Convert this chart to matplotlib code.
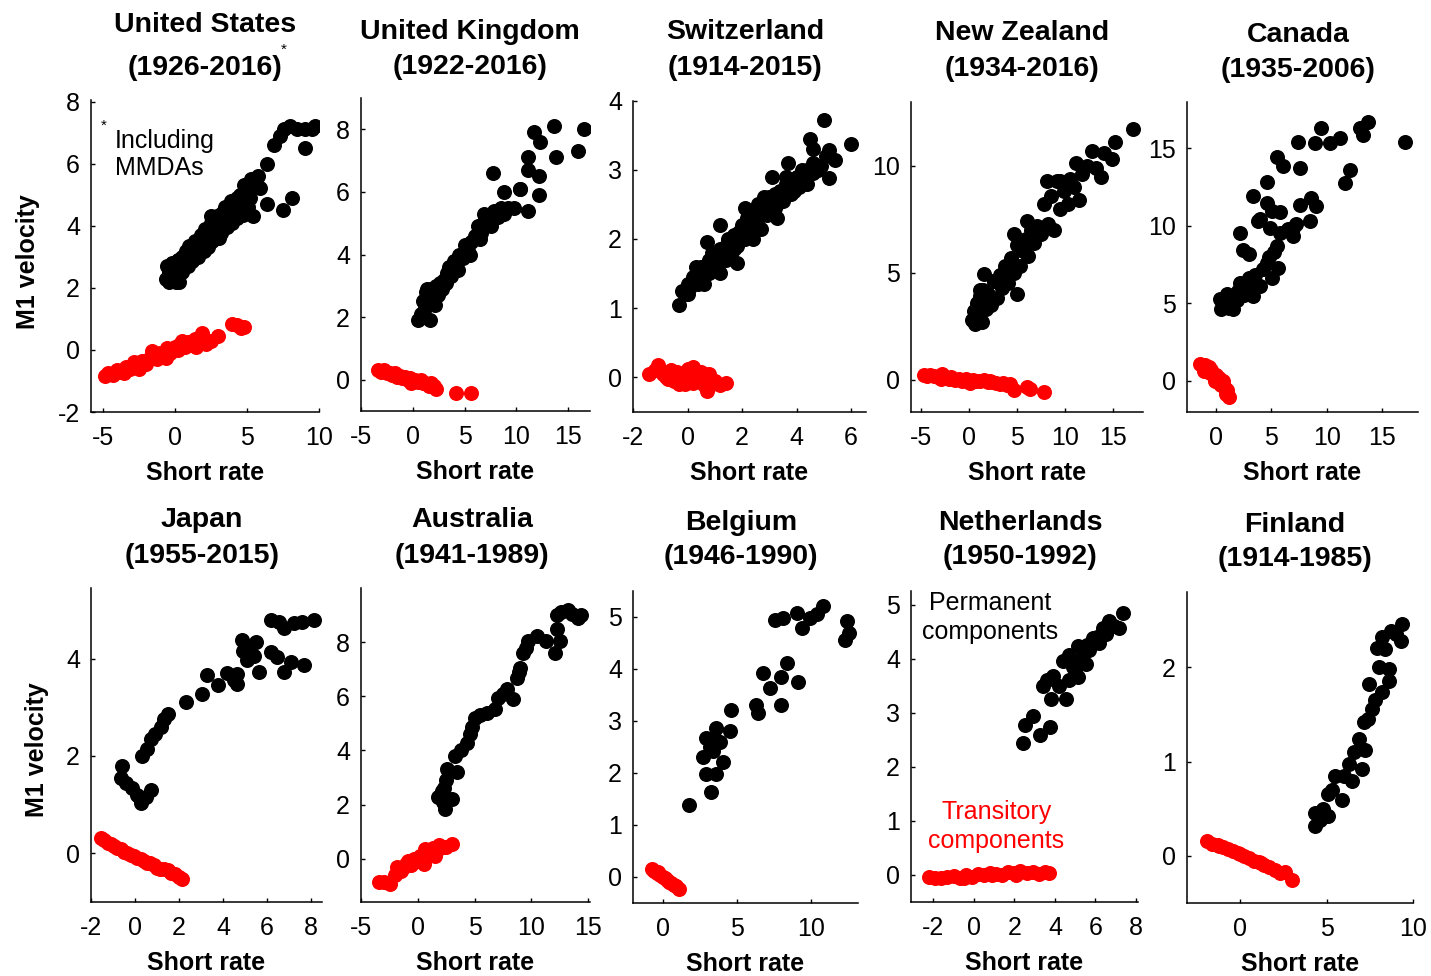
import matplotlib
matplotlib.use("Agg")
import matplotlib.pyplot as plt

plt.rcParams['font.family'] = ['Liberation Sans', 'DejaVu Sans']
plt.rcParams['axes.unicode_minus'] = False

W, H = 1431, 976

# ---------------- data ----------------
countries = ["United States", "United Kingdom", "Switzerland", "New Zealand", "Canada",
             "Japan", "Australia", "Belgium", "Netherlands", "Finland"]
periods = ["(1926-2016)", "(1922-2016)", "(1914-2015)", "(1934-2016)", "(1935-2006)",
           "(1955-2015)", "(1941-1989)", "(1946-1990)", "(1950-1992)", "(1914-1985)"]

us_perm_x = [-0.6,-0.5,-0.4,-0.2,-0.1,0.0,0.2,0.3,0.4,0.5,0.7,0.8,1.0,1.1,1.3,1.4,1.5,1.7,1.8,2.0,2.1,2.2,2.4,2.5,2.6,2.8,2.9,3.0,3.2,3.3,3.4,3.5,3.7,3.8,3.9,4.0,4.2,4.3,4.4,4.5,4.7,4.8,4.9,5.0,5.2,5.3,5.4,5.5,0.5,1.2,2.3,3.1,4.1,2.7,3.6,4.6,-0.3,0.1,1.6,2.0,
             5.8,6.4,6.9,7.3,7.6,8.0,8.5,9.0,9.5,9.7,9.0,8.1,7.5,6.4,5.9,
             -0.4,0.0,0.3,0.6,0.9,1.2,1.5,1.9,2.2,2.6,2.9,3.3,3.6,4.0,4.3,4.7,5.1,0.2,1.0,1.8,2.5,3.2,4.0,4.8]
us_perm_y = [2.3,2.7,2.5,2.8,2.4,2.6,2.9,2.2,2.7,3.0,2.8,3.2,3.0,3.3,3.1,3.5,3.3,3.4,3.7,3.5,3.9,3.6,3.8,4.1,3.7,4.0,4.3,3.8,4.2,4.4,4.0,4.6,4.3,4.5,4.8,4.2,4.6,4.9,4.4,5.0,4.7,5.1,4.5,5.3,4.9,5.5,4.3,5.2,2.5,2.9,3.3,3.6,4.4,3.9,4.1,4.6,2.5,2.2,3.0,3.2,
             5.6,6.0,6.6,6.9,7.1,7.2,7.1,7.1,7.1,7.2,6.5,4.9,4.5,4.7,5.2,
             2.2,2.35,2.45,2.6,2.7,2.85,3.05,3.2,3.3,3.5,3.6,3.85,3.95,4.1,4.25,4.35,4.6,2.75,3.35,3.65,4.3,3.75,4.55,5.3]
us_tran_x = [-4.8,-4.6,-4.3,-4.0,-3.7,-3.4,-3.1,-2.8,-2.6,-2.3,-2.0,-1.8,-1.5,-1.2,-1.0,-0.8,-0.5,-0.3,0.0,0.2,0.4,0.7,0.9,1.2,1.4,1.7,1.9,2.2,2.5,3.0,4.0,4.3,4.6,4.8,-2.5,-1.6,-0.6,0.5,1.5,-3.5]
us_tran_y = [-0.85,-0.75,-0.8,-0.65,-0.7,-0.55,-0.6,-0.4,-0.5,-0.35,-0.45,-0.3,-0.2,-0.3,-0.1,-0.2,0.05,-0.1,0.1,0.0,0.2,0.1,0.25,0.15,0.35,0.3,0.55,0.2,0.3,0.45,0.85,0.8,0.7,0.75,-0.6,-0.05,-0.25,0.3,0.1,-0.75]

uk_perm_x = [0.5,0.8,1.0,1.2,1.3,1.5,1.7,1.8,2.0,2.2,2.4,2.6,2.8,3.0,3.3,3.5,3.7,4.0,4.2,4.5,4.8,5.0,5.3,5.6,6.0,6.3,6.6,6.9,7.2,7.5,7.8,8.2,8.5,8.8,9.2,1.4,2.1,3.2,4.4,5.5,6.5,7.0,
             9.8,10.3,11.1,7.7,8.8,10.3,11.1,11.1,12.2,12.2,11.7,12.3,13.6,13.8,15.9,16.5]
uk_perm_y = [1.9,2.1,2.5,2.3,2.8,2.6,1.9,2.9,2.6,3.0,2.7,3.1,2.9,3.2,3.4,3.6,3.3,3.8,3.6,4.0,3.9,4.3,4.1,4.4,4.6,4.9,4.7,5.3,5.0,4.9,5.4,5.2,5.5,5.3,5.5,2.9,2.4,3.1,3.5,4.0,4.5,5.2,
             5.5,6.1,5.4,6.6,6.0,6.1,7.1,6.7,6.5,5.9,7.9,7.6,8.1,7.1,7.3,8.0]
uk_tran_x = [-3.4,-3.1,-2.8,-2.5,-2.2,-2.0,-1.7,-1.5,-1.2,-1.0,-0.8,-0.5,-0.3,0.0,0.2,0.5,0.7,1.0,1.2,1.5,1.8,2.0,2.2,-0.2,0.8,1.6,4.2,5.6]
uk_tran_y = [0.3,0.25,0.3,0.2,0.22,0.15,0.2,0.1,0.12,0.05,0.08,0.0,0.05,-0.05,0.0,-0.08,-0.05,-0.1,-0.12,-0.15,-0.12,-0.2,-0.3,-0.1,-0.02,-0.2,-0.43,-0.43]

ch_perm_x = [-0.3,-0.2,-0.1,0.0,0.1,0.2,0.3,0.4,0.5,0.6,0.7,0.8,0.9,1.0,1.1,1.2,1.3,1.4,1.5,1.6,1.7,1.8,1.9,2.0,2.1,2.2,2.3,2.4,2.5,2.6,2.7,2.8,2.9,3.0,3.1,3.2,3.3,3.4,3.5,3.6,3.8,4.0,4.2,4.4,4.6,4.8,
             0.3,0.6,0.9,1.2,1.5,1.8,2.1,2.4,2.7,3.0,3.3,3.6,3.9,4.2,0.7,1.2,3.1,3.7,4.5,5.0,6.0,5.2,5.4,5.2,4.4,4.6,
             0.0,0.4,0.8,1.1,1.4,1.7,2.0,2.3,2.6,2.9,3.2,3.5,3.8,4.1,4.3,4.6,4.9,5.1]
ch_perm_y = [1.05,1.25,1.2,1.35,1.3,1.45,1.4,1.5,1.6,1.45,1.55,1.7,1.6,1.75,1.65,1.85,1.75,1.9,1.95,1.8,2.05,1.9,2.1,2.2,2.0,2.3,2.15,2.4,2.25,2.5,2.35,2.6,2.45,2.55,2.4,2.65,2.5,2.7,2.6,2.8,2.75,2.9,2.85,3.0,3.1,3.0,
             1.6,1.35,1.8,1.5,2.0,1.65,2.45,2.0,2.15,2.6,2.3,2.9,2.7,3.0,1.95,2.2,2.9,3.1,3.45,3.72,3.38,2.88,3.14,3.28,2.8,3.3,
             1.2,1.35,1.5,1.6,1.7,1.85,2.0,2.1,2.3,2.35,2.45,2.55,2.65,2.75,2.9,2.95,3.05,3.2]
ch_tran_x = [-1.4,-1.2,-1.1,-0.9,-0.8,-0.6,-0.5,-0.4,-0.2,-0.1,0.0,0.1,0.2,0.3,0.4,0.5,0.6,0.7,0.8,0.9,1.0,1.2,1.4,-0.3,0.2,0.6,-0.7,0.0]
ch_tran_y = [0.04,0.1,0.18,0.05,0.0,0.1,-0.05,0.08,0.0,-0.1,0.12,0.05,0.15,-0.05,0.0,0.08,-0.12,-0.2,0.05,-0.1,-0.05,-0.12,-0.08,-0.1,-0.08,0.05,-0.02,0.0]

nz_perm_x = [0.3,0.5,0.7,0.9,1.0,1.2,1.4,1.5,1.8,2.0,2.3,2.6,2.9,3.2,3.5,3.8,4.1,4.4,4.7,5.0,5.3,5.6,5.9,6.2,6.5,6.8,7.1,7.5,7.8,8.2,8.5,8.9,9.2,9.5,9.9,10.3,10.5,10.9,11.4,11.8,12.3,12.8,13.2,13.7,14.1,14.9,15.2,17.1,
             1.6,2.6,4.7,6.1,8.1,9.5,11.1,1.2,5.0]
nz_perm_y = [2.8,3.2,2.6,3.6,3.0,3.9,2.7,4.2,3.3,4.0,3.5,4.6,3.8,4.9,4.3,5.3,4.5,5.7,5.0,6.3,5.3,6.0,6.6,5.8,7.0,6.4,7.2,6.8,8.2,7.3,8.6,7.0,9.3,8.0,8.8,8.2,9.4,9.0,8.4,9.6,10.0,10.7,9.9,9.5,10.6,10.3,11.1,11.7,
             4.95,4.6,6.8,7.4,9.3,9.3,10.15,4.2,4.0]
nz_tran_x = [-4.7,-4.3,-4.0,-3.6,-3.2,-2.8,-2.5,-2.1,-1.8,-1.4,-1.0,-0.7,-0.3,0.0,0.4,0.8,1.2,1.6,2.0,2.4,2.8,3.2,3.6,4.0,4.3,4.7,6.0,6.4,7.8,-2.9,0.1,2.2]
nz_tran_y = [0.22,0.15,0.2,0.18,0.1,0.25,0.12,0.05,0.1,0.0,0.05,-0.05,0.02,-0.1,0.0,-0.05,-0.08,0.0,-0.12,-0.1,-0.15,-0.2,-0.15,-0.25,-0.22,-0.5,-0.35,-0.45,-0.58,0.05,-0.15,-0.05]

ca_perm_x = [0.36,0.5,0.8,1.2,1.56,1.9,2.16,2.5,2.8,3.36,3.0,3.5,3.96,4.2,4.6,5.01,5.61,4.8,5.46,5.2,2.16,2.46,3.36,3.81,4.56,4.56,5.01,5.46,6.06,7.41,7.56,6.96,7.56,8.61,8.46,9.06,9.51,8.91,10.26,11.16,11.61,12.06,12.96,13.26,13.71,17.01,5.76,4.86,6.96,5.8,6.5,7.2,3.0,4.0,1.0,2.0]
ca_perm_y = [5.25,4.6,5.0,4.7,4.6,5.2,6.32,5.5,6.0,5.46,6.6,6.8,6.1,7.2,7.6,6.64,7.29,8.0,8.68,8.3,9.54,8.46,11.89,10.28,12.85,11.46,10.93,14.46,13.82,15.42,13.71,9.32,11.36,11.79,10.28,11.25,16.28,15.32,15.32,15.64,12.75,13.61,16.28,15.85,16.71,15.42,9.54,9.86,9.86,10.9,9.8,10.1,8.2,10.4,5.6,5.8]
ca_tran_x = [-1.4,-1.2,-1.0,-0.9,-0.7,-0.5,-0.4,-0.2,0.0,0.1,0.3,0.5,0.6,0.8,1.0,1.2,-1.1,-0.6,-0.1,0.4,0.9]
ca_tran_y = [1.1,0.9,1.0,0.7,0.8,0.5,0.7,0.3,0.4,0.0,0.2,-0.3,0.0,-0.5,-0.6,-1.05,0.6,0.9,0.0,-0.2,-0.85]

jp_perm_x = [-0.57,-0.65,-0.4,-0.12,0.1,0.26,0.5,0.71,0.33,0.55,0.71,0.9,1.17,1.3,1.48,2.3,3.06,3.29,3.75,4.2,4.5,4.65,4.65,4.88,5.1,5.48,5.63,5.4,6.17,6.47,6.77,7.07,7.68,6.55,6.77,7.23,7.6,8.14,6.17,4.9,5.2]
jp_perm_y = [1.8,1.55,1.45,1.35,1.2,1.04,1.15,1.31,2.0,2.15,2.35,2.45,2.59,2.75,2.86,3.11,3.28,3.66,3.45,3.7,3.55,3.69,3.48,4.38,3.97,4.35,3.73,4.05,4.14,4.04,3.73,3.93,3.87,4.76,4.62,4.73,4.75,4.8,4.8,4.15,4.2]
jp_tran_x = [-1.55,-1.4,-1.25,-1.1,-0.95,-0.8,-0.65,-0.5,-0.35,-0.2,-0.05,0.1,0.25,0.4,0.55,0.7,0.85,1.0,1.15,1.3,1.5,1.65,1.8,2.0,2.15]
jp_tran_y = [0.32,0.28,0.22,0.2,0.15,0.1,0.08,0.02,0.0,-0.03,-0.05,-0.1,-0.12,-0.15,-0.2,-0.2,-0.25,-0.3,-0.32,-0.32,-0.35,-0.4,-0.42,-0.48,-0.52]

au_perm_x = [2.4,2.2,1.81,2.98,2.1,2.5,3.42,3.28,3.8,4.3,4.74,5.03,5.5,6.06,6.8,7.08,7.5,7.81,8.4,8.7,9.0,9.29,9.5,9.72,10.45,11.3,12.06,12.5,12.21,12.21,12.6,13.23,13.6,14.1,14.4,2.6,2.3,2.0,4.6,8.9]
au_perm_y = [1.84,2.1,2.27,2.21,2.5,2.9,3.19,3.8,4.0,4.29,4.85,5.21,5.3,5.4,5.52,5.95,6.1,6.26,5.9,6.69,7.06,7.61,7.8,8.04,8.22,8.04,7.61,8.04,8.47,9.02,9.1,9.2,9.05,8.9,9.0,3.3,2.6,2.4,4.6,6.9]
au_tran_x = [-3.46,-3.0,-2.44,-2.0,-1.85,-1.5,-1.2,-0.9,-0.6,-0.3,0.0,0.2,0.5,0.8,1.0,1.3,1.6,1.9,2.2,2.5,2.98,-1.0,0.6,1.5]
au_tran_y = [-0.86,-0.85,-0.92,-0.6,-0.31,-0.45,-0.3,-0.1,-0.25,0.0,-0.1,0.1,-0.2,0.3,0.15,0.4,0.25,0.5,0.45,0.45,0.55,-0.2,0.35,0.1]

be_perm_x = [1.77,3.28,2.96,3.64,2.74,4.1,2.96,3.64,4.55,4.64,3.87,3.42,6.34,6.45,6.79,7.24,8.03,8.37,8.03,9.16,7.58,8.14,9.05,9.39,9.95,10.4,10.86,12.45,12.56,12.33,3.2,3.5]
be_perm_y = [1.38,1.64,1.99,1.99,2.31,2.22,2.67,2.86,2.8,3.21,2.6,2.42,3.31,3.15,3.92,3.63,3.31,4.11,3.85,3.75,4.95,4.98,5.08,4.79,4.98,5.05,5.21,4.92,4.69,4.56,2.5,2.7]
be_tran_x = [-0.7,-0.55,-0.4,-0.3,-0.15,0.0,0.15,0.3,0.45,0.6,0.75,0.9,1.1]
be_tran_y = [0.15,0.12,0.08,0.1,0.03,0.0,-0.02,-0.06,-0.1,-0.12,-0.16,-0.18,-0.23]

nl_perm_x = [2.43,2.51,2.92,3.25,3.74,3.41,3.6,3.9,3.82,4.2,4.56,4.72,4.72,4.9,5.13,5.13,5.3,5.54,5.7,5.87,6.0,6.2,6.36,6.5,6.69,6.9,7.18,7.34,4.4,5.0,5.6,6.1]
nl_perm_y = [2.44,2.78,2.93,2.59,2.74,3.49,3.6,3.67,3.26,3.5,3.26,3.6,4.07,3.85,4.23,3.66,4.0,3.9,4.15,4.38,4.3,4.29,4.57,4.45,4.7,4.6,4.57,4.84,3.95,3.8,4.25,4.4]
nl_tran_x = [-2.2,-1.9,-1.6,-1.3,-1.0,-0.7,-0.4,-0.1,0.2,0.5,0.8,1.1,1.4,1.7,2.0,2.3,2.6,2.9,3.2,3.5,3.7,-0.5,0.9,2.1]
nl_tran_y = [-0.03,-0.05,-0.06,-0.04,-0.02,-0.05,0.0,-0.03,0.02,0.0,0.03,0.02,0.0,0.06,0.04,0.07,0.03,0.05,0.02,0.06,0.04,-0.06,-0.01,0.0]

fi_perm_x = [4.32,4.32,4.6,5.1,5.1,5.88,5.49,6.27,6.46,7.05,7.24,6.85,7.14,7.63,7.82,7.43,8.21,8.02,8.6,8.6,7.92,8.21,8.7,9.38,9.28,4.8,5.3,6.0,6.6,7.4,8.4,9.0]
fi_perm_y = [0.32,0.45,0.38,0.42,0.66,0.59,0.85,0.98,0.79,0.92,1.12,1.24,1.42,1.56,1.65,1.82,1.74,2.0,1.98,1.86,2.21,2.32,2.39,2.46,2.28,0.5,0.7,0.85,1.1,1.45,2.2,2.35]
fi_tran_x = [-1.9,-1.6,-1.3,-1.0,-0.7,-0.4,-0.1,0.2,0.5,0.8,1.1,1.4,1.7,2.0,2.3,2.6,3.0,-1.2,0.0,1.2]
fi_tran_y = [0.16,0.13,0.12,0.09,0.07,0.05,0.03,0.0,-0.02,-0.05,-0.07,-0.1,-0.12,-0.15,-0.18,-0.17,-0.26,0.1,0.02,-0.08]

perm_x = [us_perm_x, uk_perm_x, ch_perm_x, nz_perm_x, ca_perm_x, jp_perm_x, au_perm_x, be_perm_x, nl_perm_x, fi_perm_x]
perm_y = [us_perm_y, uk_perm_y, ch_perm_y, nz_perm_y, ca_perm_y, jp_perm_y, au_perm_y, be_perm_y, nl_perm_y, fi_perm_y]
tran_x = [us_tran_x, uk_tran_x, ch_tran_x, nz_tran_x, ca_tran_x, jp_tran_x, au_tran_x, be_tran_x, nl_tran_x, fi_tran_x]
tran_y = [us_tran_y, uk_tran_y, ch_tran_y, nz_tran_y, ca_tran_y, jp_tran_y, au_tran_y, be_tran_y, nl_tran_y, fi_tran_y]

# ---------------- layout (pixels) ----------------
rects = [(91, 100, 319, 412), (361, 98, 590, 411), (633, 100.7, 866, 411.7),
         (911, 101.7, 1143, 411.7), (1187, 101.7, 1418, 411.7),
         (91, 588, 322, 902), (361, 588, 590, 902), (633, 591, 858, 903),
         (911, 591, 1138, 902), (1187, 592, 1413, 903)]
xlims = [(-5.8, 10), (-5, 17.1), (-2, 6.55), (-6, 18.1), (-2.6, 18.2),
         (-2, 8.5), (-5, 15.15), (-2, 13.2), (-3.1, 8.1), (-3.07, 10)]
ylims = [(-2, 8.05), (-1, 9), (-0.5, 4), (-1.5, 13), (-2, 18),
         (-1, 5.45), (-1.6, 10), (-0.5, 5.5), (-0.5, 5.25), (-0.5, 2.8)]
xticks = [[-5, 0, 5, 10], [-5, 0, 5, 10, 15], [-2, 0, 2, 4, 6], [-5, 0, 5, 10, 15], [0, 5, 10, 15],
          [-2, 0, 2, 4, 6, 8], [-5, 0, 5, 10, 15], [0, 5, 10], [-2, 0, 2, 4, 6, 8], [0, 5, 10]]
yticks = [[-2, 0, 2, 4, 6, 8], [0, 2, 4, 6, 8], [0, 1, 2, 3, 4], [0, 5, 10], [0, 5, 10, 15],
          [0, 2, 4], [0, 2, 4, 6, 8], [0, 1, 2, 3, 4, 5], [0, 1, 2, 3, 4, 5], [0, 1, 2]]
title_pos = [(205, 25, 68), (470, 32, 67), (745, 32, 68), (1022, 33, 69), (1298, 35, 70),
             (202, 520, 556), (472, 520, 556), (741, 523, 557), (1020, 523, 557), (1295, 525, 559)]

def fx(px):
    return px / W

def fy(py):
    return 1 - py / H

fig = plt.figure(figsize=(W / 100, H / 100), dpi=100)

MS = 117
TICK_FS = 18
for i in range(10):
    l, t, r, b = rects[i]
    ax = fig.add_axes([fx(l), fy(b), (r - l) / W, (b - t) / H])
    ax.scatter(tran_x[i], tran_y[i], s=MS, color='#ff0000', linewidths=0, zorder=3)
    ax.scatter(perm_x[i], perm_y[i], s=MS, color='#000000', linewidths=0, zorder=3)
    ax.set_xlim(*xlims[i])
    ax.set_ylim(*ylims[i])
    ax.set_xticks(xticks[i])
    ax.set_yticks(yticks[i])
    for s in ['top', 'right']:
        ax.spines[s].set_visible(False)
    for s in ['left', 'bottom']:
        ax.spines[s].set_linewidth(1.1)
    ax.tick_params(direction='in', length=3, width=1.0, labelsize=TICK_FS)
    ax.tick_params(axis='x', pad=10)
    ax.tick_params(axis='y', pad=8)
    ax.set_xlabel("Short rate", fontsize=18, fontweight='bold', labelpad=8)
    cx, y1, y2 = title_pos[i]
    fig.text(fx(cx), fy(y1), countries[i], ha='center', va='center', fontsize=20.5, fontweight='bold')
    fig.text(fx(cx), fy(y2), periods[i], ha='center', va='center', fontsize=20.5, fontweight='bold')

# y labels
fig.text(fx(28), fy(262), "M1 velocity", rotation=90, ha='center', va='center', fontsize=18, fontweight='bold')
fig.text(fx(37), fy(750), "M1 velocity", rotation=90, ha='center', va='center', fontsize=18, fontweight='bold')

# annotations
fig.text(fx(284), fy(50), "*", ha='center', va='center', fontsize=11)
fig.text(fx(104), fy(126), "*", ha='center', va='center', fontsize=11)
fig.text(fx(115), fy(141), "Including", ha='left', va='center', fontsize=18)
fig.text(fx(115), fy(168), "MMDAs", ha='left', va='center', fontsize=18)
fig.text(fx(990), fy(603), "Permanent", ha='center', va='center', fontsize=18, color='black')
fig.text(fx(990), fy(632), "components", ha='center', va='center', fontsize=18, color='black')
fig.text(fx(997), fy(812), "Transitory", ha='center', va='center', fontsize=18, color='#ff0000')
fig.text(fx(996), fy(841), "components", ha='center', va='center', fontsize=18, color='#ff0000')

fig.savefig("out.png", dpi=100)
